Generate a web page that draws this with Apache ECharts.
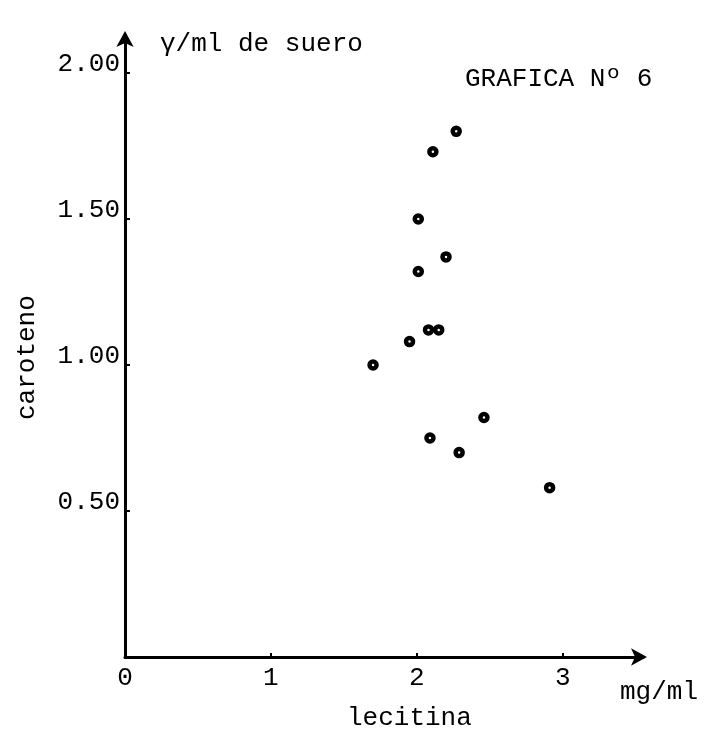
<!DOCTYPE html>
<html>
<head>
<meta charset="utf-8">
<script src="https://cdn.jsdelivr.net/npm/echarts@6/dist/echarts.min.js"></script>
<style>
    html, body { margin: 0; padding: 0; background: #fff; }
    #chart { width: 716px; height: 737px; }
</style>
</head>
<body>
<div id="chart"></div>
<script>
// lecitina (mg/ml) frente a caroteno (γ/ml de suero)
const lecitina = [2.27, 2.11, 2.01, 2.20, 2.01, 2.08, 2.15, 1.95, 1.70, 2.46, 2.09, 2.29, 2.91];
const caroteno = [1.80, 1.73, 1.50, 1.37, 1.32, 1.12, 1.12, 1.08, 1.00, 0.82, 0.75, 0.70, 0.58];
const xTicks = [0, 1, 2, 3];
const yTicks = [0.5, 1.0, 1.5, 2.0];

const FONT = "Liberation Mono";
const puntos = lecitina.map((x, i) => [x, caroteno[i]]);

const chart = echarts.init(document.getElementById("chart"));
chart.setOption({
    animation: false,
    backgroundColor: "#fff",
    grid: { left: 125, right: 73, top: 35, bottom: 80 },
    xAxis: {
        type: "value",
        min: 0,
        max: 3.55,
        axisLine: {
            lineStyle: { color: "#000", width: 3 },
            symbol: ["none", "arrow"],
            symbolSize: [13, 16],
            symbolOffset: [0, 4]
        },
        axisTick: {
            inside: true,
            length: 4,
            lineStyle: { color: "#000", width: 2 },
            customValues: xTicks.slice(1)
        },
        axisLabel: {
            customValues: xTicks,
            margin: 8,
            color: "#000",
            fontFamily: FONT,
            fontSize: 26,
            formatter: (v) => String(v)
        },
        splitLine: { show: false }
    },
    yAxis: {
        type: "value",
        min: 0,
        max: 2.13,
        axisLine: {
            lineStyle: { color: "#000", width: 3 },
            symbol: ["none", "arrow"],
            symbolSize: [13, 16],
            symbolOffset: [0, 4]
        },
        axisTick: {
            inside: true,
            length: 5,
            lineStyle: { color: "#000", width: 2 },
            customValues: yTicks
        },
        axisLabel: {
            customValues: yTicks,
            margin: 5,
            color: "#000",
            fontFamily: FONT,
            fontSize: 26,
            verticalAlign: "bottom",
            lineHeight: 18,
            formatter: (v) => v.toFixed(2)
        },
        splitLine: { show: false }
    },
    series: [{
        type: "scatter",
        data: puntos,
        symbol: "circle",
        symbolSize: 7,
        itemStyle: { color: "#fff", borderColor: "#000", borderWidth: 4.5, opacity: 1 }
    }],
    graphic: [
        {
            type: "text", left: 160, top: 31,
            style: { text: "γ/ml de suero", font: "26px " + FONT, fill: "#000" }
        },
        {
            type: "text", left: 465, top: 66,
            style: { text: "GRAFICA Nº 6", font: "26px " + FONT, fill: "#000" }
        },
        {
            type: "text", left: 620, top: 679,
            style: { text: "mg/ml", font: "26px " + FONT, fill: "#000" }
        },
        {
            type: "text", left: 347, top: 705,
            style: { text: "lecitina", font: "26px " + FONT, fill: "#000" }
        },
        {
            type: "text", x: 14, y: 420, rotation: Math.PI / 2,
            style: { text: "caroteno", font: "26px " + FONT, fill: "#000" }
        }
    ]
});
</script>
</body>
</html>
